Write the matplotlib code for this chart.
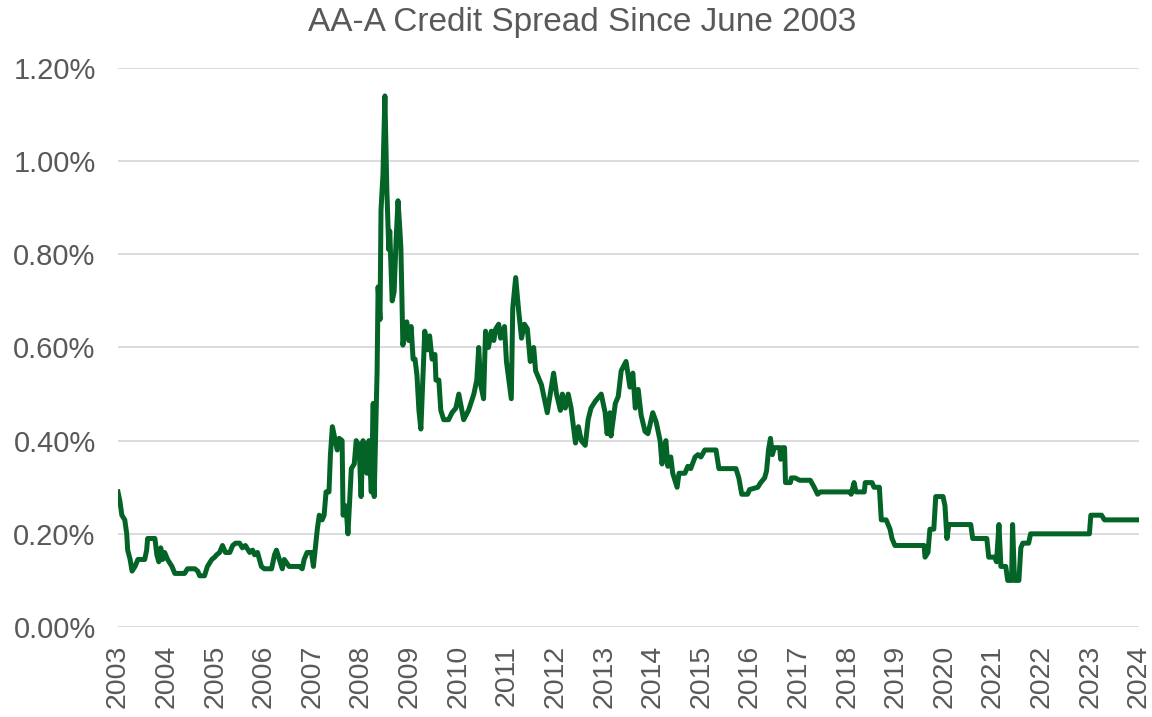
import matplotlib
matplotlib.use('Agg')
import matplotlib.pyplot as plt
import matplotlib.ticker as ticker
import numpy as np

# AA-A spread (%); dates as decimal years
dates = [
    2003.42, 2003.46, 2003.50, 2003.56, 2003.60, 2003.62, 2003.67, 2003.71, 2003.77, 2003.83,
    2003.97, 2004.01, 2004.03, 2004.18, 2004.22, 2004.26, 2004.30, 2004.34, 2004.38, 2004.44,
    2004.53, 2004.59, 2004.79, 2004.85, 2005.00, 2005.06, 2005.10, 2005.20, 2005.26, 2005.35,
    2005.41, 2005.45, 2005.51, 2005.57, 2005.63, 2005.72, 2005.78, 2005.84, 2005.92, 2005.98,
    2006.04, 2006.13, 2006.19, 2006.23, 2006.29, 2006.37, 2006.43, 2006.58, 2006.64, 2006.68,
    2006.74, 2006.80, 2006.84, 2006.94, 2007.15, 2007.21, 2007.25, 2007.31, 2007.40, 2007.44,
    2007.48, 2007.52, 2007.56, 2007.62, 2007.66, 2007.70, 2007.76, 2007.79, 2007.83, 2007.89,
    2007.93, 2007.97, 2008.03, 2008.05, 2008.11, 2008.15, 2008.22, 2008.28, 2008.32, 2008.38,
    2008.42, 2008.46, 2008.50, 2008.54, 2008.58, 2008.63, 2008.67, 2008.69, 2008.75, 2008.77,
    2008.81, 2008.83, 2008.87, 2008.91, 2008.95, 2008.99, 2009.01, 2009.06, 2009.10, 2009.14,
    2009.18, 2009.22, 2009.24, 2009.28, 2009.32, 2009.36, 2009.40, 2009.45, 2009.49, 2009.53,
    2009.57, 2009.61, 2009.65, 2009.69, 2009.73, 2009.79, 2009.83, 2009.88, 2009.94, 2009.96,
    2010.02, 2010.06, 2010.12, 2010.22, 2010.29, 2010.37, 2010.43, 2010.53, 2010.63, 2010.74,
    2010.80, 2010.84, 2010.88, 2010.94, 2010.98, 2011.04, 2011.10, 2011.15, 2011.19, 2011.25,
    2011.29, 2011.37, 2011.41, 2011.51, 2011.54, 2011.60, 2011.66, 2011.72, 2011.78, 2011.84,
    2011.90, 2011.97, 2012.01, 2012.13, 2012.25, 2012.38, 2012.44, 2012.52, 2012.56, 2012.62,
    2012.68, 2012.74, 2012.83, 2012.89, 2012.95, 2013.03, 2013.09, 2013.15, 2013.24, 2013.36,
    2013.44, 2013.48, 2013.54, 2013.56, 2013.65, 2013.71, 2013.77, 2013.87, 2013.95, 2014.01,
    2014.06, 2014.12, 2014.18, 2014.26, 2014.32, 2014.42, 2014.49, 2014.57, 2014.61, 2014.65,
    2014.69, 2014.73, 2014.79, 2014.83, 2014.92, 2014.96, 2015.08, 2015.14, 2015.20, 2015.29,
    2015.35, 2015.41, 2015.49, 2015.72, 2015.78, 2016.13, 2016.19, 2016.25, 2016.37, 2016.41,
    2016.58, 2016.64, 2016.72, 2016.76, 2016.80, 2016.84, 2016.88, 2016.92, 2017.03, 2017.05,
    2017.09, 2017.13, 2017.15, 2017.25, 2017.27, 2017.35, 2017.44, 2017.66, 2017.74, 2017.81,
    2017.87, 2018.48, 2018.50, 2018.56, 2018.60, 2018.77, 2018.79, 2018.93, 2018.97, 2019.08,
    2019.12, 2019.22, 2019.30, 2019.34, 2019.40, 2020.00, 2020.02, 2020.08, 2020.12, 2020.20,
    2020.24, 2020.39, 2020.43, 2020.47, 2020.51, 2020.96, 2021.00, 2021.29, 2021.33, 2021.45,
    2021.49, 2021.54, 2021.58, 2021.68, 2021.72, 2021.80, 2021.82, 2021.86, 2021.95, 2021.99,
    2022.03, 2022.15, 2022.19, 2023.40, 2023.43, 2023.65, 2023.71, 2024.42,
]
spread = [
    0.29, 0.27, 0.24, 0.23, 0.20, 0.165, 0.145, 0.12, 0.13, 0.145,
    0.145, 0.165, 0.19, 0.19, 0.155, 0.14, 0.17, 0.145, 0.16, 0.145,
    0.13, 0.115, 0.115, 0.125, 0.125, 0.12, 0.11, 0.11, 0.13, 0.145,
    0.15, 0.155, 0.16, 0.175, 0.16, 0.16, 0.175, 0.18, 0.18, 0.17,
    0.175, 0.16, 0.165, 0.155, 0.16, 0.13, 0.125, 0.125, 0.155, 0.165,
    0.145, 0.125, 0.145, 0.13, 0.13, 0.125, 0.145, 0.16, 0.16, 0.13,
    0.17, 0.21, 0.24, 0.23, 0.24, 0.29, 0.29, 0.37, 0.43, 0.40,
    0.38, 0.405, 0.40, 0.24, 0.26, 0.20, 0.34, 0.35, 0.40, 0.39,
    0.28, 0.40, 0.35, 0.33, 0.40, 0.29, 0.48, 0.28, 0.55, 0.73,
    0.66, 0.895, 0.97, 1.14, 0.94, 0.81, 0.85, 0.70, 0.72, 0.83,
    0.915, 0.85, 0.81, 0.605, 0.635, 0.655, 0.615, 0.645, 0.575, 0.575,
    0.54, 0.465, 0.425, 0.53, 0.635, 0.595, 0.625, 0.575, 0.585, 0.53,
    0.53, 0.465, 0.445, 0.445, 0.46, 0.47, 0.50, 0.445, 0.465, 0.50,
    0.53, 0.60, 0.52, 0.49, 0.635, 0.60, 0.635, 0.615, 0.64, 0.65,
    0.62, 0.645, 0.57, 0.49, 0.685, 0.75, 0.68, 0.62, 0.65, 0.64,
    0.57, 0.60, 0.55, 0.52, 0.46, 0.545, 0.50, 0.465, 0.50, 0.47,
    0.50, 0.47, 0.395, 0.43, 0.40, 0.39, 0.445, 0.47, 0.485, 0.50,
    0.46, 0.415, 0.46, 0.41, 0.48, 0.495, 0.55, 0.57, 0.515, 0.545,
    0.47, 0.51, 0.455, 0.42, 0.415, 0.46, 0.44, 0.40, 0.35, 0.385,
    0.40, 0.345, 0.365, 0.33, 0.30, 0.33, 0.33, 0.345, 0.34, 0.365,
    0.37, 0.365, 0.38, 0.38, 0.34, 0.34, 0.32, 0.285, 0.285, 0.295,
    0.30, 0.31, 0.32, 0.335, 0.38, 0.405, 0.37, 0.385, 0.385, 0.36,
    0.385, 0.385, 0.31, 0.31, 0.32, 0.32, 0.315, 0.315, 0.30, 0.285,
    0.29, 0.29, 0.285, 0.31, 0.29, 0.29, 0.31, 0.31, 0.30, 0.30,
    0.23, 0.23, 0.21, 0.19, 0.175, 0.175, 0.15, 0.16, 0.21, 0.21,
    0.28, 0.28, 0.26, 0.19, 0.22, 0.22, 0.19, 0.19, 0.15, 0.15,
    0.14, 0.22, 0.13, 0.13, 0.10, 0.10, 0.22, 0.10, 0.10, 0.17,
    0.18, 0.18, 0.20, 0.20, 0.24, 0.24, 0.23, 0.23,
]

# year labels sit at each June, starting with the first observation
year_labels = [str(y) for y in range(2003, 2025)]
year_ticks = [2003.42 + i for i in range(len(year_labels))]
y_ticks = [0.0, 0.2, 0.4, 0.6, 0.8, 1.0, 1.2]

LINE = '#046428'
GREY = '#595959'
FONT = ['Liberation Sans', 'DejaVu Sans']


def main():
    plt.rcParams['font.family'] = FONT
    fig = plt.figure(figsize=(11.52, 7.17), dpi=100)
    ax = fig.add_axes([0.1024, 0.1255, 0.8863, 0.7797])

    ax.plot(dates, spread, color=LINE, linewidth=3.6, solid_joinstyle='round')

    ax.set_xlim(year_ticks[0], year_ticks[-1])
    ax.set_ylim(0, 1.2)
    ax.set_yticks(y_ticks)
    ax.yaxis.set_major_formatter(ticker.FuncFormatter(lambda v, p: f'{v:.2f}%'))
    ax.set_xticks(year_ticks)
    ax.set_xticklabels(year_labels, rotation=90)

    ax.grid(axis='y', color='#D9D9D9', linewidth=1.3)
    ax.set_axisbelow(True)
    for s in ax.spines.values():
        s.set_visible(False)
    ax.tick_params(length=0, labelsize=21, labelcolor=GREY)
    ax.tick_params(axis='y', pad=16)
    ax.tick_params(axis='x', pad=13, labelsize=20.5)

    fig.text(0.505, 1 - 22 / 717, 'AA-A Credit Spread Since June 2003',
             ha='center', va='center', fontsize=24, color=GREY)

    fig.savefig('out.png', dpi=100)


if __name__ == '__main__':
    main()
